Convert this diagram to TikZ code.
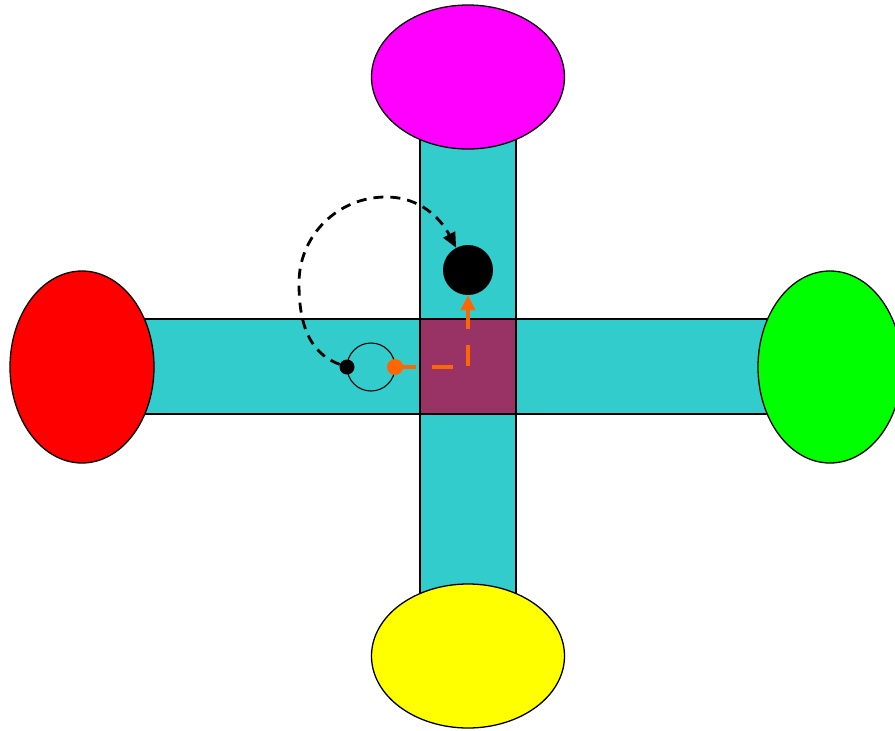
\documentclass[tikz,border=0pt]{standalone}
\usetikzlibrary{shapes.geometric,arrows.meta}
\definecolor{barcyan}{HTML}{33CCCC}
\definecolor{midplum}{HTML}{993366}
\definecolor{arrorange}{HTML}{FF6600}
\definecolor{topmag}{HTML}{FF00FF}
\definecolor{botyel}{HTML}{FFFF00}
\definecolor{lftred}{HTML}{FF0000}
\definecolor{rgtgrn}{HTML}{00FF00}
\tikzset{
  bar/.style={draw=black,line width=1.3pt,fill=barcyan},
  blob/.style={ellipse,draw=black,line width=1.3pt,inner sep=0pt},
  dotnode/.style={circle,fill=black,inner sep=0pt},
}
\begin{document}
\begin{tikzpicture}[x=1pt,y=-1pt]
\clip (0,0) rectangle (895,731);
% bars
\node[bar,minimum width=96pt,minimum height=580pt,inner sep=0pt] (vbar) at (468,366.5) {};
\node[bar,minimum width=748pt,minimum height=95pt,inner sep=0pt] (hbar) at (456,366.5) {};
\node[draw=black,line width=1.3pt,fill=midplum,minimum width=96pt,minimum height=95pt,inner sep=0pt] (core) at (468,366.5) {};
% ellipses
\node[blob,fill=topmag,minimum width=193pt,minimum height=144pt] (top) at (468,77) {};
\node[blob,fill=botyel,minimum width=193pt,minimum height=144pt] (bottom) at (468,656) {};
\node[blob,fill=lftred,minimum width=144pt,minimum height=192pt] (left) at (82,367) {};
\node[blob,fill=rgtgrn,minimum width=144pt,minimum height=192pt] (right) at (830,367) {};
% small ring and dots
\node[circle,draw=black,line width=1.1pt,minimum size=48pt,inner sep=0pt] (ring) at (371,367) {};
\node[dotnode,minimum size=15pt] (sdot) at (347,367) {};
\node[circle,fill=arrorange,inner sep=0pt,minimum size=16pt] (odot) at (395,367) {};
\node[dotnode,minimum size=50pt] (bdot) at (468,270) {};
\coordinate (cleft) at (299,283);
\coordinate (ctop) at (386,197);
\coordinate (ocorner) at (468,367);
% black dashed loop
\draw[line width=2.8pt,dash pattern=on 10pt off 7pt,-{Triangle[length=15pt,width=13pt]}]
  (sdot) to[out=160,in=-90] (cleft) to[out=90,in=180] (ctop) to[out=0,in=118] (bdot);
% orange dashed path
\draw[arrorange,line width=4pt,dash pattern=on 21pt off 16pt,-{Triangle[length=15pt,width=14pt]}]
  (odot.center) -- (ocorner) -- (bdot);
\end{tikzpicture}
\end{document}
